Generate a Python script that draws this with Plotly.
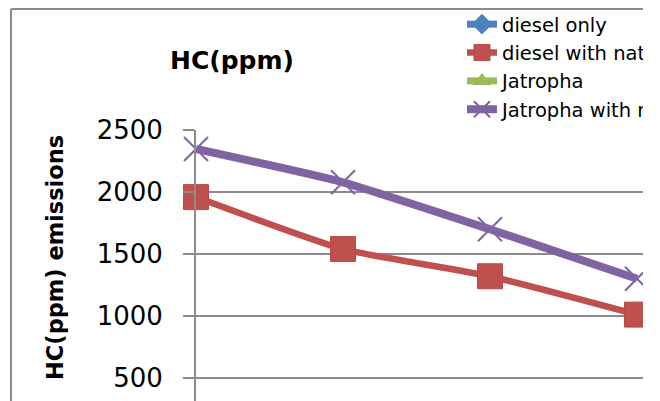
import plotly.graph_objects as go

categories = ["1", "2", "3", "4"]
diesel_only = [None, None, None, None]
diesel_ng = [1960, 1540, 1320, 1010]
jatropha = [None, None, None, None]
jatropha_ng = [2350, 2080, 1700, 1300]
y_ticks = [500, 1000, 1500, 2000, 2500]

W, H = 643, 401
L, T = 196, 130
PW, PH = W - L, H - T
FONT = "DejaVu Sans"

def px_x(px):
    return (px - L) / PW

def px_y(py):
    return (H - py) / PH

fig = go.Figure()
fig.add_trace(go.Scatter(x=categories, y=diesel_only, name="diesel only", mode="lines+markers",
                         line=dict(color="#4F81BD", width=7),
                         marker=dict(symbol="diamond", size=16, color="#4F81BD"), cliponaxis=False))
fig.add_trace(go.Scatter(x=categories, y=diesel_ng, name="diesel with natural gas", mode="lines+markers",
                         line=dict(color="#C0504D", width=6.5, shape="spline", smoothing=0.5),
                         marker=dict(symbol="square", size=25, color="#C0504D",
                                     line=dict(color="#B94A47", width=1)), cliponaxis=False))
fig.add_trace(go.Scatter(x=categories, y=jatropha, name="Jatropha", mode="lines+markers",
                         line=dict(color="#9BBB59", width=7),
                         marker=dict(symbol="triangle-up", size=16, color="#9BBB59"), cliponaxis=False))
fig.add_trace(go.Scatter(x=categories, y=jatropha_ng, name="Jatropha with natural gas", mode="lines+markers",
                         line=dict(color="#8064A2", width=8, shape="spline", smoothing=0.5),
                         marker=dict(symbol="x-thin", size=24, color="#8064A2",
                                     line=dict(color="#8064A2", width=2)), cliponaxis=False))

border = "#8C8C8C"
shapes = [
    dict(type="line", xref="paper", yref="paper", x0=px_x(11), x1=px_x(660), y0=px_y(9), y1=px_y(9),
         line=dict(color=border, width=2)),
    dict(type="line", xref="paper", yref="paper", x0=px_x(11), x1=px_x(11), y0=px_y(9), y1=px_y(420),
         line=dict(color=border, width=2)),
]

annotations = [
    dict(text="<b>HC(ppm) emissions</b>", xref="paper", yref="paper", x=px_x(55), y=px_y(258),
         xanchor="center", yanchor="middle", textangle=-90, showarrow=False,
         font=dict(size=22.5, family=FONT, color="black")),
]

fig.update_layout(
    width=W, height=H,
    margin=dict(l=L, r=0, t=T, b=0, pad=0, autoexpand=False),
    paper_bgcolor="white", plot_bgcolor="white",
    font=dict(family=FONT, color="black"),
    title=dict(text="<b>HC(ppm)</b>", x=232 / W, xanchor="center", xref="container",
               y=1 - 60 / H, yanchor="middle", yref="container",
               font=dict(size=25, family=FONT, color="black")),
    shapes=shapes,
    annotations=annotations,
    showlegend=True,
    legend=dict(x=px_x(462), xanchor="left", y=px_y(5), yanchor="top",
                font=dict(size=19.5, family=FONT, color="black"),
                bgcolor="rgba(0,0,0,0)", borderwidth=0, tracegroupgap=0),
    xaxis=dict(type="category", range=[0, PW / 147], showgrid=False, showline=False,
               showticklabels=False, ticks="", zeroline=False, automargin=False),
    yaxis=dict(range=[311, 2503], tickvals=y_ticks, showgrid=True, gridcolor=border, gridwidth=2,
               showline=True, linecolor=border, linewidth=2, ticks="outside", ticklen=11,
               tickcolor=border, tickwidth=2, zeroline=False, automargin=False,
               ticklabelstandoff=15,
               tickfont=dict(size=26, family=FONT, color="black")),
)

fig.write_html("out.html")
